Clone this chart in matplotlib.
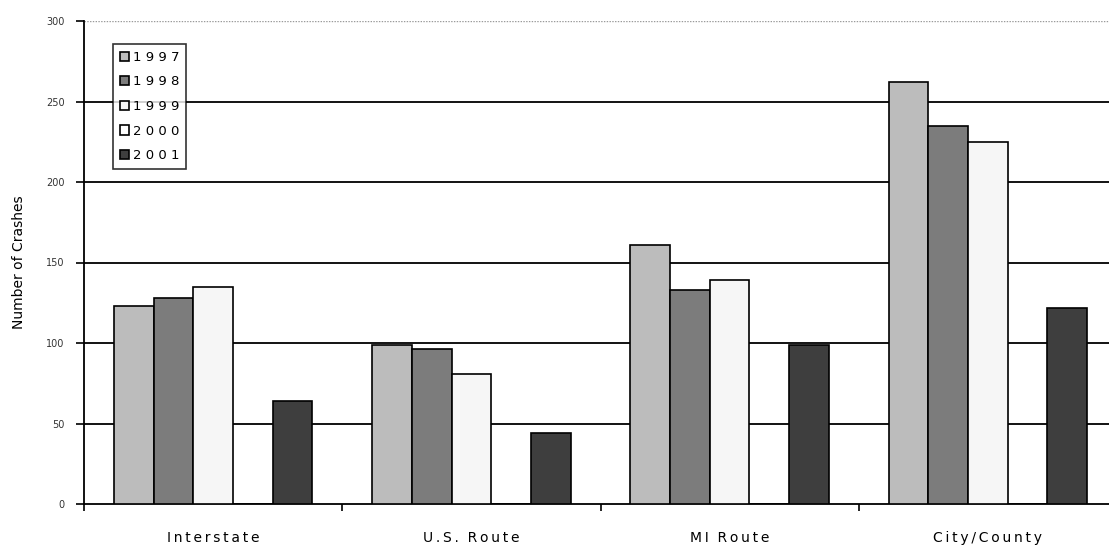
import numpy as np
import matplotlib
matplotlib.use("Agg")
import matplotlib.pyplot as plt

categories = ["Interstate", "U.S. Route", "MI Route", "City/County"]
years = ["1997", "1998", "1999", "2000", "2001"]
crashes_1997 = [123, 99, 161, 262]
crashes_1998 = [128, 96, 133, 235]
crashes_1999 = [135, 81, 139, 225]
crashes_2000 = [0, 0, 0, 0]
crashes_2001 = [64, 44, 99, 122]
yticks = [0, 50, 100, 150, 200, 250, 300]

series = [crashes_1997, crashes_1998, crashes_1999, crashes_2000, crashes_2001]
fills = ["#bcbcbc", "#7c7c7c", "#f6f6f6", "#ffffff", "#3e3e3e"]

fig = plt.figure(figsize=(11.09, 5.45), dpi=100)
ax = fig.add_axes([84 / 1109, 1 - 504 / 545, 1033 / 1109, 483 / 545])

x = np.arange(len(categories))
width = 1 / 6.5
for i, (vals, c) in enumerate(zip(series, fills)):
    offs = (i - 2) * width
    ax.bar(x + offs, vals, width, color=c, edgecolor="black", linewidth=1.2,
           label=" ".join(years[i]), zorder=3)

ax.set_xlim(-0.5, len(categories) - 0.5)
ax.set_ylim(0, 300)

# horizontal gridlines
for v in yticks[1:-1]:
    ax.axhline(v, color="black", linewidth=1.3, zorder=1)
ax.axhline(300, color="#9a9a9a", linewidth=1, linestyle=(0, (1, 1)), zorder=1)

for s in ["top", "right"]:
    ax.spines[s].set_visible(False)
ax.spines["left"].set_linewidth(1.3)
ax.spines["bottom"].set_linewidth(1.3)

ax.set_yticks(yticks)
ax.set_yticklabels([str(v) for v in yticks], fontsize=7, color="#333333")
ax.tick_params(axis="y", direction="out", length=6, width=1.2, pad=8)

# category boundaries as ticks, names centered under groups
ax.set_xticks(np.arange(len(categories) + 1) - 0.5)
ax.set_xticklabels([])
ax.tick_params(axis="x", direction="out", length=5, width=1.2)
for xi, name in zip(x, categories):
    ax.text(xi, -17, "\u2009".join(name).replace("\u2009 \u2009", "  "),
            ha="center", va="top", fontsize=10, transform=ax.transData)

ax.set_ylabel("Number of Crashes", fontsize=10, labelpad=14)

leg = ax.legend(loc="upper left", bbox_to_anchor=(0.028, 0.952), fontsize=9.5,
                frameon=True, fancybox=False, edgecolor="black",
                handlelength=0.7, handleheight=0.7, handletextpad=0.3,
                labelspacing=0.88, borderpad=0.5, borderaxespad=0)
leg.get_frame().set_linewidth(1.2)
leg.set_zorder(5)

fig.savefig("out.png", dpi=100)
